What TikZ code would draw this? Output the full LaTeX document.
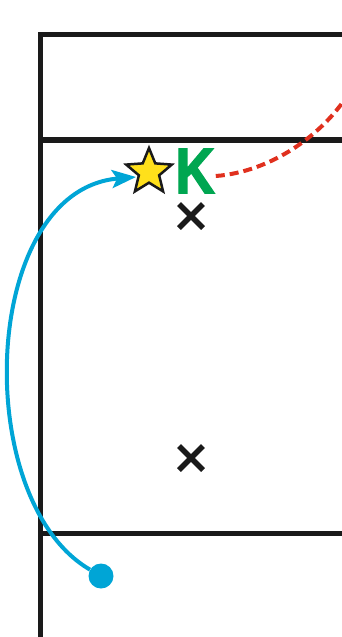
\documentclass[tikz,border=0pt]{standalone}
\usepackage{fontspec}
\setmainfont{Liberation Sans}
\newfontfamily\kfont{Liberation Sans}[FakeBold=2.5,BoldFont={Liberation Sans Bold}]
\usetikzlibrary{shapes.geometric,arrows.meta}
\definecolor{fieldblack}{HTML}{1A1A1A}
\definecolor{kgreen}{HTML}{00A651}
\definecolor{pblue}{HTML}{00A5D6}
\definecolor{pred}{HTML}{E0301E}
\definecolor{syellow}{HTML}{FFE01B}
\tikzset{
  fieldline/.style={line width=5.5pt, draw=fieldblack, miter limit=10},
  cross/.style={line width=5.5pt, draw=fieldblack},
  runpath/.style={line width=4pt, draw=pblue, -{Stealth[length=24pt,width=18pt,inset=5pt]}},
  passpath/.style={line width=4pt, draw=pred, dash pattern=on 9pt off 5pt},
  playerdot/.style={circle, fill=pblue, inner sep=0pt, minimum size=25pt},
  starmark/.style={star, star points=5, star point ratio=2.25, draw=fieldblack, line width=2.5pt, fill=syellow, minimum size=48pt, inner sep=0pt},
  klabel/.style={text=kgreen, font=\kfont\bfseries\fontsize{64}{64}\selectfont, inner sep=0pt, xscale=0.85}
}
\begin{document}
\begin{tikzpicture}[x=1pt,y=-1pt]
\useasboundingbox (0,0) rectangle (342,637);
\begin{scope}
\clip (0,0) rectangle (342,637);
% field
\draw[fieldline] (345,34.5) -- (40.5,34.5) -- (40.5,640);
\draw[fieldline] (40.5,140) -- (345,140);
\draw[fieldline] (40.5,533.5) -- (345,533.5);
% crosses
\node (x1) at (191,216) {};
\node (x2) at (191,458) {};
\draw[cross] ([shift={(-12,-12)}]x1.center) -- ([shift={(12,12)}]x1.center);
\draw[cross] ([shift={(-12,12)}]x1.center) -- ([shift={(12,-12)}]x1.center);
\draw[cross] ([shift={(-12,-12)}]x2.center) -- ([shift={(12,12)}]x2.center);
\draw[cross] ([shift={(-12,12)}]x2.center) -- ([shift={(12,-12)}]x2.center);
% star and K
\node[starmark] (star) at (149,172) {};
\node[klabel] (k) at (195,171) {K};
% player dot
\node[playerdot] (dot) at (101,576) {};
% run path
\coordinate (tip) at (136,177);
\draw[runpath] (dot) .. controls (-30,500) and (-20,190) .. (tip);
% pass path
\coordinate (off) at (352,88);
\draw[passpath] (k.east) ++(1,5) .. controls (270,172) and (325,135) .. (off);
\end{scope}
\end{tikzpicture}
\end{document}
